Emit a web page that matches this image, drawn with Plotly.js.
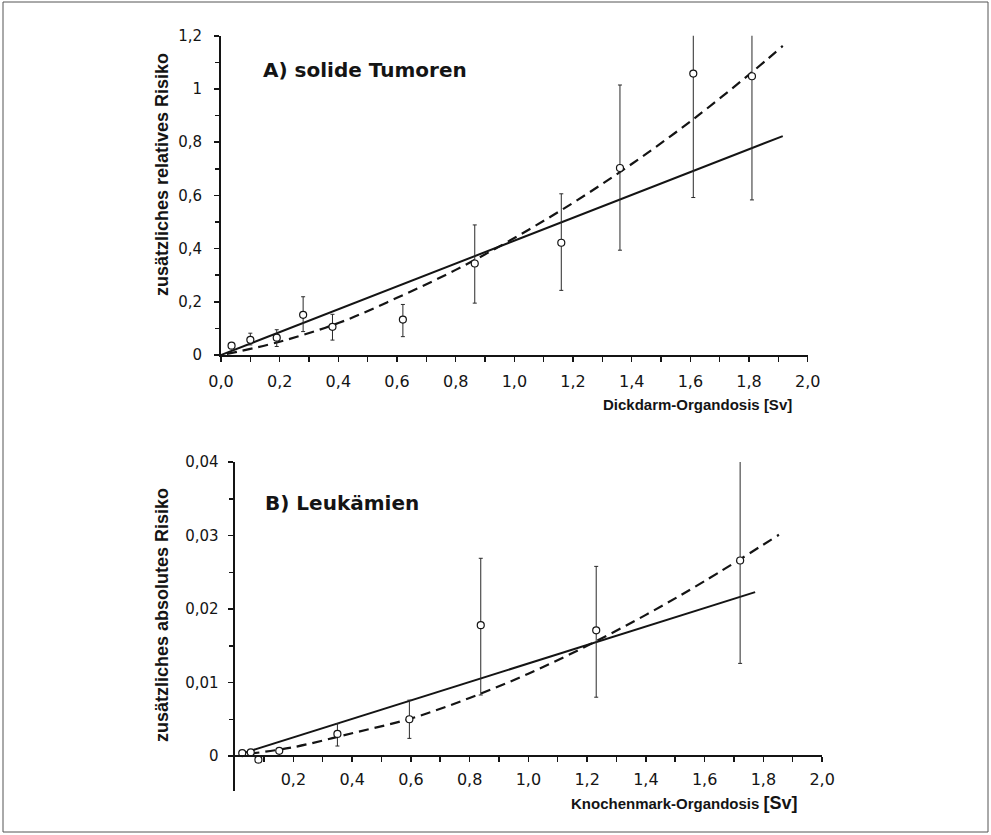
<!DOCTYPE html>
<html>
<head>
<meta charset="utf-8">
<script src="https://cdn.plot.ly/plotly-3.0.1.min.js"></script>
<style>html,body{margin:0;padding:0;background:#fff;}#chart{width:991px;height:835px;}</style>
</head>
<body>
<div id="chart"></div>
<script>
// ---------- Panel A: solide Tumoren ----------
const aDose   = [0.036, 0.10, 0.19, 0.28, 0.38, 0.62, 0.865, 1.16, 1.36, 1.61, 1.81];
const aRisk   = [0.035, 0.057, 0.065, 0.151, 0.106, 0.133, 0.344, 0.422, 0.703, 1.058, 1.048];
const aHigh   = [0.043, 0.082, 0.095, 0.219, 0.153, 0.190, 0.489, 0.606, 1.015, 1.25, 1.25];
const aLow    = [0.027, 0.038, 0.032, 0.088, 0.056, 0.069, 0.195, 0.243, 0.394, 0.592, 0.583];
const aLinX   = [0.0, 1.915];
const aLinY   = [0.0, 0.823];
const aLqX    = [0.02, 0.2, 0.4, 0.6, 0.8, 1.0, 1.2, 1.4, 1.6, 1.8, 1.915];
const aLqY    = [0.004, 0.050, 0.120, 0.215, 0.320, 0.440, 0.572, 0.718, 0.878, 1.054, 1.162];
const aXTickVals = [0, 0.2, 0.4, 0.6, 0.8, 1.0, 1.2, 1.4, 1.6, 1.8, 2.0];
const aXTickText = ['0,0','0,2','0,4','0,6','0,8','1,0','1,2','1,4','1,6','1,8','2,0'];
const aYTickVals = [0, 0.2, 0.4, 0.6, 0.8, 1.0, 1.2];
const aYTickText = ['0','0,2','0,4','0,6','0,8','1','1,2'];

// ---------- Panel B: Leukämien ----------
const bDose   = [0.026, 0.055, 0.081, 0.152, 0.35, 0.595, 0.838, 1.231, 1.721];
const bRisk   = [0.0004, 0.0005, -0.0005, 0.0007, 0.0030, 0.0050, 0.0178, 0.0171, 0.0266];
const bHigh   = [0.0004, 0.0005, -0.0005, 0.0007, 0.0044, 0.0076, 0.0269, 0.0258, 0.0406];
const bLow    = [0.0004, 0.0005, -0.0005, 0.0007, 0.00136, 0.0024, 0.0083, 0.0080, 0.0126];
const bLinX   = [0.03, 1.772];
const bLinY   = [0.0004, 0.0223];
const bLqX    = [0.05, 0.2, 0.4, 0.6, 0.8, 1.0, 1.2, 1.4, 1.6, 1.853];
const bLqY    = [0.0003, 0.0012, 0.0031, 0.0051, 0.0079, 0.0112, 0.0150, 0.0192, 0.0238, 0.0301];
const bXTickVals = [0.2, 0.4, 0.6, 0.8, 1.0, 1.2, 1.4, 1.6, 1.8, 2.0];
const bXTickText = ['0,2','0,4','0,6','0,8','1,0','1,2','1,4','1,6','1,8','2,0'];
const bYTickVals = [0, 0.01, 0.02, 0.03, 0.04];
const bYTickText = ['0','0,01','0,02','0,03','0,04'];

// ---------- texts ----------
const titleA  = 'A) solide Tumoren';
const titleB  = 'B) Leukämien';
const yTitleA = 'zusätzliches relatives Risiko';
const yTitleB = 'zusätzliches absolutes Risiko';
const xTitleA = 'Dickdarm-Organdosis [Sv]';
const xTitleB = 'Knochenmark-Organdosis <span style="font-size:18px">[Sv]</span>';

// ---------- geometry (pixels) ----------
const W = 991, H = 835;
const fx = p => p / W;
const fy = p => 1 - p / H;

const ink = '#141414';
const tickFont = {family: 'DejaVu Sans, sans-serif', size: 16, color: ink};
const yTickFont = {family: 'DejaVu Sans, sans-serif', size: 15, color: ink};

function errs(y, hi, lo) {
  return {
    type: 'data', symmetric: false,
    array: y.map((v, i) => hi[i] - v),
    arrayminus: y.map((v, i) => v - lo[i]),
    color: '#2a2a2a', thickness: 1, width: 2
  };
}

const lineSolid = {color: ink, width: 2};
const lineDash  = {color: ink, width: 2.2, dash: '10px,6px', shape: 'spline'};
const markerStyle = {symbol: 'circle', size: 7, color: '#ffffff', line: {color: ink, width: 1.2}};

const traces = [
  {x: aLinX, y: aLinY, xaxis: 'x', yaxis: 'y', mode: 'lines', line: lineSolid, hoverinfo: 'skip'},
  {x: aLqX, y: aLqY, xaxis: 'x', yaxis: 'y', mode: 'lines', line: lineDash, hoverinfo: 'skip'},
  {x: aDose, y: aRisk, xaxis: 'x', yaxis: 'y', mode: 'markers', marker: markerStyle,
   error_y: errs(aRisk, aHigh, aLow)},
  {x: bLinX, y: bLinY, xaxis: 'x2', yaxis: 'y2', mode: 'lines', line: lineSolid, hoverinfo: 'skip'},
  {x: bLqX, y: bLqY, xaxis: 'x2', yaxis: 'y2', mode: 'lines', line: lineDash, hoverinfo: 'skip'},
  {x: bDose, y: bRisk, xaxis: 'x2', yaxis: 'y2', mode: 'markers', marker: markerStyle,
   error_y: errs(bRisk, bHigh, bLow)}
];

const axBase = {
  showgrid: false, zeroline: false, showline: true, linecolor: ink, linewidth: 2,
  ticks: 'outside', ticklen: 5, tickwidth: 1.5, tickcolor: ink, fixedrange: true
};

const layout = {
  width: W, height: H,
  margin: {l: 0, r: 0, t: 0, b: 0},
  paper_bgcolor: '#ffffff', plot_bgcolor: 'rgba(0,0,0,0)',
  showlegend: false,
  xaxis: Object.assign({}, axBase, {
    domain: [fx(221), fx(807.7)], range: [0, 2.0], anchor: 'y',
    tickmode: 'array', tickvals: aXTickVals, ticktext: aXTickText, tickfont: tickFont,
    ticklabelstandoff: 6,
    minor: {dtick: 0.1, tick0: 0, ticks: 'outside', ticklen: 5, tickwidth: 1.5, tickcolor: ink, showgrid: false}
  }),
  yaxis: Object.assign({}, axBase, {
    domain: [fy(355), fy(35.8)], range: [0, 1.2], anchor: 'x',
    tickmode: 'array', tickvals: aYTickVals, ticktext: aYTickText, tickfont: yTickFont,
    ticklabelstandoff: 9,
    minor: {dtick: 0.1, tick0: 0, ticks: 'outside', ticklen: 4, tickwidth: 1.5, tickcolor: ink, showgrid: false}
  }),
  xaxis2: Object.assign({}, axBase, {
    domain: [fx(234.6), fx(822.1)], range: [0, 2.0], anchor: 'free', position: fy(756),
    tickmode: 'array', tickvals: bXTickVals, ticktext: bXTickText, tickfont: tickFont,
    ticklabelstandoff: 4,
    minor: {dtick: 0.1, tick0: 0, ticks: 'outside', ticklen: 5, tickwidth: 1.5, tickcolor: ink, showgrid: false}
  }),
  yaxis2: Object.assign({}, axBase, {
    domain: [fy(791.3), fy(462)], range: [-0.0048, 0.04], anchor: 'x2',
    tickmode: 'array', tickvals: bYTickVals, ticktext: bYTickText, tickfont: yTickFont,
    ticklabelstandoff: 6,
    minor: {dtick: 0.005, tick0: 0, ticks: 'outside', ticklen: 4, tickwidth: 1.5, tickcolor: ink, showgrid: false}
  }),
  annotations: [
    {text: titleA, xref: 'paper', yref: 'paper', x: fx(261), y: fy(70), xanchor: 'left', yanchor: 'middle',
     showarrow: false, font: {family: 'DejaVu Sans, sans-serif', size: 20, color: ink, weight: 'bold'}},
    {text: titleB, xref: 'paper', yref: 'paper', x: fx(263), y: fy(503), xanchor: 'left', yanchor: 'middle',
     showarrow: false, font: {family: 'DejaVu Sans, sans-serif', size: 20, color: ink, weight: 'bold'}},
    {text: yTitleA, xref: 'paper', yref: 'paper', x: fx(162), y: fy(175), xanchor: 'center', yanchor: 'middle',
     textangle: -90, showarrow: false, font: {family: 'Liberation Sans, Arial, sans-serif', size: 18, color: ink, weight: 'bold'}},
    {text: yTitleB, xref: 'paper', yref: 'paper', x: fx(162), y: fy(615), xanchor: 'center', yanchor: 'middle',
     textangle: -90, showarrow: false, font: {family: 'Liberation Sans, Arial, sans-serif', size: 18, color: ink, weight: 'bold'}},
    {text: xTitleA, xref: 'paper', yref: 'paper', x: fx(794), y: fy(405), xanchor: 'right', yanchor: 'middle',
     showarrow: false, font: {family: 'Liberation Sans, Arial, sans-serif', size: 15, color: ink, weight: 'bold'}},
    {text: xTitleB, xref: 'paper', yref: 'paper', x: fx(800), y: fy(803), xanchor: 'right', yanchor: 'middle',
     showarrow: false, font: {family: 'Liberation Sans, Arial, sans-serif', size: 15, color: ink, weight: 'bold'}}
  ],
  shapes: [
    {type: 'rect', xref: 'paper', yref: 'paper', x0: fx(3), x1: fx(988), y0: fy(832), y1: fy(2),
     line: {color: '#555555', width: 1}, fillcolor: 'rgba(0,0,0,0)', layer: 'below'}
  ]
};

Plotly.newPlot('chart', traces, layout, {displayModeBar: false, staticPlot: true});
</script>
</body>
</html>
